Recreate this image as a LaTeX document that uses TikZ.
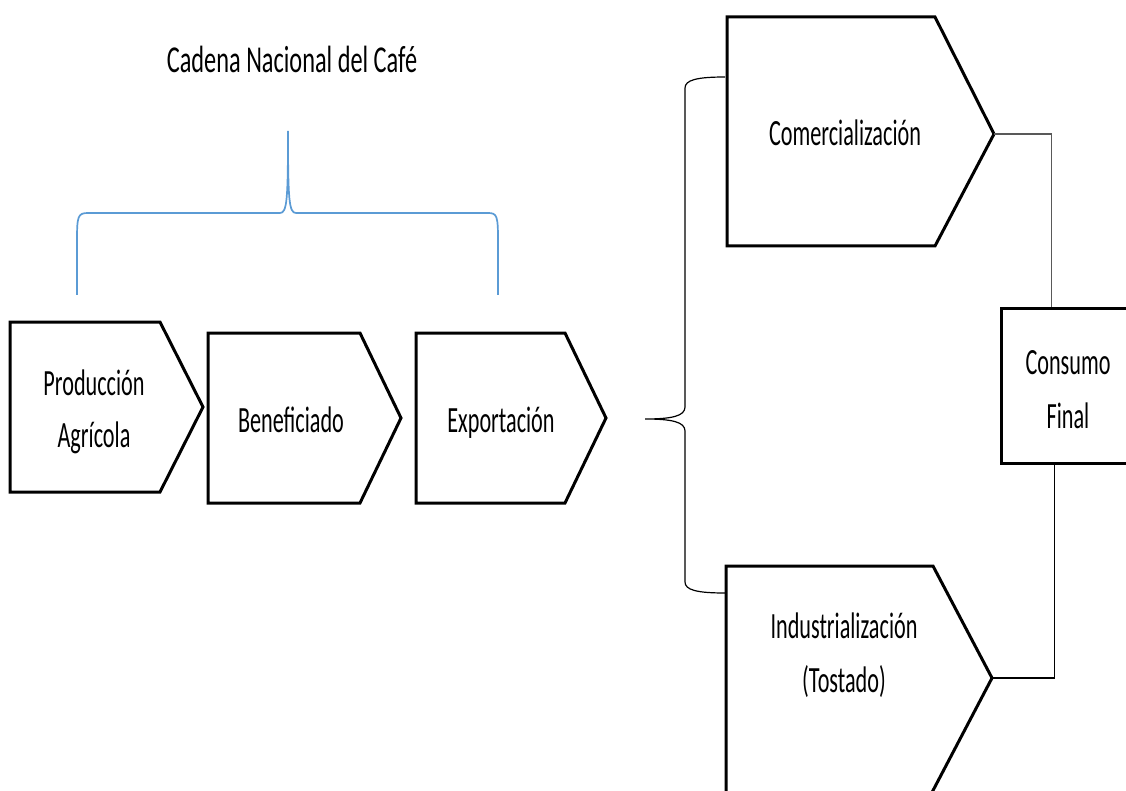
\documentclass[tikz,border=0pt]{standalone}
\usepackage{fontspec}
\setmainfont{Carlito}[FakeStretch=0.6]
\newfontfamily\titlefont{Carlito}[FakeStretch=0.64]
\begin{document}
\begin{tikzpicture}[x=1pt,y=-1pt,
  chev/.style={draw=black,line width=3pt,line join=miter,fill=white},
  lbl/.style={font=\fontsize{37}{53}\selectfont,anchor=base,inner sep=0pt},
  conn/.style={line width=1.6pt},
  bluebrace/.style={draw={rgb,255:red,91;green,155;blue,213},line width=1.7pt},
  blackbrace/.style={draw=black,line width=1.2pt}]
\useasboundingbox (0,0) rectangle (1126,791);
\fill[white] (0,0) rectangle (1126,791);
% title and top brace
\node[lbl,font=\titlefont\fontsize{38}{53}\selectfont] (title) at (292,73) {Cadena Nacional del Café};
\draw[bluebrace] (77,295) -- (77,240) .. controls (77,216) and (78,213) .. (88,213) -- (280,213)
  .. controls (287,213) and (288,200) .. (288,131)
  .. controls (288,200) and (289,213) .. (296,213) -- (488,213)
  .. controls (497,213) and (498,216) .. (498,240) -- (498,295);
% left chain
\draw[chev] (10,322) -- (160,322) -- (203,407) -- (160,492) -- (10,492) -- cycle;
\draw[chev] (208,333) -- (360,333) -- (401,418) -- (360,503) -- (208,503) -- cycle;
\draw[chev] (416,333) -- (565,333) -- (606,418) -- (565,503) -- (416,503) -- cycle;
\node[lbl] (prod1) at (94,395) {Producción};
\node[lbl] (prod2) at (94,447) {Agrícola};
\node[lbl] (benef) at (291,432) {Beneficiado};
\node[lbl] (expo) at (501,432) {Exportación};
% right brace
\draw[blackbrace] (725,77) .. controls (697,77) and (685,80) .. (685,88) -- (685,407)
  .. controls (685,416) and (672,419) .. (645,419)
  .. controls (672,419) and (685,422) .. (685,431) -- (685,582)
  .. controls (685,590) and (697,593) .. (725,593);
% right chevrons
\draw[chev] (727,17) -- (935,17) -- (994,134) -- (935,246) -- (727,246) -- cycle;
\coordinate (comtip) at (994,134);
\draw[chev] (726,566) -- (933,566) -- (992,678) -- (928,800) -- (726,800) -- cycle;
\coordinate (indtip) at (992,678);
\node[lbl] (comer) at (845,146) {Comercialización};
\node[lbl] (indus1) at (844,638) {Industrialización};
\node[lbl] (indus2) at (844,692) {(Tostado)};
% consumo final
\node[draw=black,line width=3pt,minimum width=140pt,minimum height=154pt,inner sep=0pt] (consumo) at (1071,386) {};
\node[lbl] (cons1) at (1068,374) {Consumo};
\node[lbl] (cons2) at (1068,428) {Final};
\draw[conn,draw=black!65] (comtip) -| ([xshift=52pt]consumo.north west);
\draw[conn] ([xshift=55pt]consumo.south west) |- (indtip);
\end{tikzpicture}
\end{document}
